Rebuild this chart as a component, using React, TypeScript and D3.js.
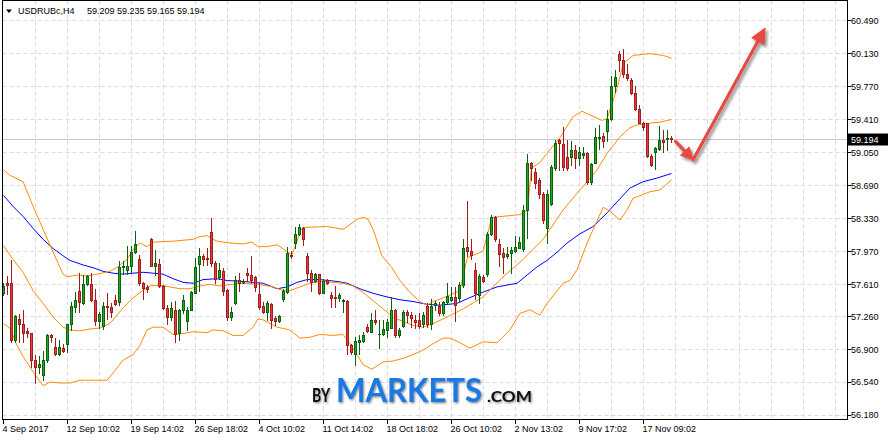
import React from "react";
import * as d3 from "d3";

// ---------- data ----------
const opens = [
  57.51, 57.62, 57.62, 57.0, 57.23, 57.18, 57.1, 57.08, 56.78, 56.7,
  56.62, 56.78, 57.05, 56.92, 56.85, 56.91, 56.96, 57.17, 57.36, 57.53,
  57.4, 57.61, 57.61, 57.44, 57.21, 57.15, 57.37, 57.36, 57.44, 57.41,
  57.8, 57.76, 57.81, 57.96, 57.89, 57.62, 57.58, 58.1, 57.81, 57.83,
  57.59, 57.35, 57.25, 57.33, 57.08, 57.33, 57.21, 57.33, 57.51, 57.83,
  57.92, 57.9, 58.18, 57.84, 57.69, 57.75, 57.55, 57.25, 57.4, 57.66,
  57.63, 57.73, 57.71, 57.69, 57.5, 57.37, 57.31, 57.39, 57.24, 57.21,
  57.45, 57.52, 57.93, 58.06, 58.16, 58.22, 57.92, 57.73, 57.64, 57.72,
  57.51, 57.66, 57.49, 57.47, 57.46, 57.43, 57.43, 56.94, 56.85, 56.98,
  56.99, 57.14, 57.09, 57.22, 57.06, 57.06, 57.11, 57.13, 57.33, 57.05,
  57.15, 57.31, 57.27, 57.22, 57.22, 57.18, 57.37, 57.18, 57.38, 57.37,
  57.29, 57.41, 57.44, 57.47, 57.46, 57.6, 58.02, 57.97, 57.77, 57.49,
  57.69, 57.72, 58.16, 58.34, 58.05, 57.95, 57.92, 57.95, 57.97, 58.01,
  57.99, 58.42, 58.93, 58.84, 58.75, 58.6, 58.22, 58.49, 58.88, 59.19,
  59.14, 59.0, 59.0, 59.08, 58.99, 59.02, 59.04, 58.73, 58.94, 59.21,
  59.23, 59.28, 59.42, 59.78, 60.13, 60.06, 59.91, 59.84, 59.7, 59.52,
  59.37, 59.37, 59.01, 59.05, 59.09, 59.19, 59.2, 59.209,
];
const highs = [
  57.62, 57.7, 57.87, 57.27, 57.28, 57.33, 57.13, 57.08, 56.84, 56.83,
  56.88, 57.06, 57.07, 57.02, 57.0, 56.96, 57.18, 57.42, 57.52, 57.73,
  57.71, 57.71, 57.73, 57.56, 57.31, 57.42, 57.51, 57.4, 57.49, 57.86,
  57.86, 58.03, 58.03, 58.19, 57.93, 57.63, 57.6, 58.12, 57.98, 57.89,
  57.6, 57.38, 57.42, 57.43, 57.34, 57.49, 57.36, 57.54, 57.9, 58.01,
  57.94, 58.01, 58.33, 57.86, 57.84, 57.79, 57.56, 57.36, 57.7, 57.73,
  57.67, 57.79, 57.92, 57.7, 57.62, 57.42, 57.43, 57.4, 57.26, 57.27,
  57.56, 58.02, 57.97, 58.24, 58.27, 58.24, 57.95, 57.77, 57.73, 57.72,
  57.67, 57.67, 57.52, 57.59, 57.51, 57.45, 57.44, 56.96, 57.03, 57.05,
  57.09, 57.18, 57.29, 57.33, 57.22, 57.22, 57.23, 57.47, 57.34, 57.13,
  57.33, 57.33, 57.31, 57.27, 57.3, 57.31, 57.4, 57.45, 57.43, 57.42,
  57.43, 57.62, 57.58, 57.58, 57.63, 58.1, 58.52, 58.1, 57.84, 57.72,
  57.71, 58.18, 58.37, 58.36, 58.1, 58.01, 58.02, 58.02, 58.14, 58.13,
  58.47, 59.03, 58.95, 58.88, 58.77, 58.62, 58.64, 58.91, 59.19, 59.2,
  59.33, 59.19, 59.17, 59.13, 59.11, 59.11, 59.05, 58.94, 59.32, 59.35,
  59.26, 59.51, 59.89, 59.95, 60.16, 60.18, 60.02, 59.86, 59.78, 59.57,
  59.38, 59.37, 59.03, 59.11, 59.34, 59.29, 59.3, 59.235,
];
const lows = [
  57.49, 57.5, 56.98, 56.98, 56.98, 56.98, 57.03, 56.71, 56.53, 56.64,
  56.56, 56.76, 56.98, 56.84, 56.84, 56.87, 56.87, 57.11, 57.31, 57.31,
  57.39, 57.6, 57.43, 57.16, 57.13, 57.12, 57.23, 57.25, 57.38, 57.38,
  57.72, 57.72, 57.73, 57.95, 57.6, 57.45, 57.52, 57.81, 57.71, 57.58,
  57.34, 57.18, 57.22, 56.98, 57.0, 57.29, 57.11, 57.33, 57.51, 57.54,
  57.82, 57.82, 57.81, 57.62, 57.67, 57.49, 57.22, 57.22, 57.39, 57.54,
  57.62, 57.65, 57.62, 57.54, 57.34, 57.29, 57.22, 57.13, 57.16, 57.2,
  57.43, 57.51, 57.9, 58.01, 58.15, 58.04, 57.65, 57.54, 57.63, 57.5,
  57.51, 57.61, 57.36, 57.36, 57.43, 57.31, 56.85, 56.85, 56.73, 56.85,
  56.98, 57.09, 57.09, 57.18, 56.91, 57.05, 57.03, 57.13, 57.03, 57.03,
  57.14, 57.2, 57.14, 57.13, 57.13, 57.14, 57.14, 57.12, 57.33, 57.27,
  57.27, 57.4, 57.43, 57.21, 57.43, 57.58, 57.92, 57.88, 57.45, 57.4,
  57.63, 57.7, 58.15, 58.08, 57.81, 57.73, 57.9, 57.73, 57.96, 58.0,
  57.97, 58.12, 58.75, 58.66, 58.55, 58.28, 58.06, 58.48, 58.86, 58.86,
  58.86, 58.86, 58.91, 58.88, 58.91, 58.99, 58.71, 58.71, 58.93, 59.09,
  59.11, 59.17, 59.4, 59.71, 59.94, 59.87, 59.84, 59.69, 59.51, 59.37,
  59.29, 59.0, 58.9, 58.87, 59.08, 59.06, 59.08, 59.165,
];
const closes = [
  57.59, 57.6, 57.0, 57.26, 57.18, 57.08, 57.08, 56.78, 56.7, 56.74,
  56.78, 57.05, 57.03, 56.85, 56.92, 56.88, 57.17, 57.37, 57.44, 57.41,
  57.61, 57.7, 57.44, 57.21, 57.28, 57.37, 57.36, 57.31, 57.39, 57.8,
  57.81, 57.81, 57.96, 58.05, 57.62, 57.57, 57.56, 57.81, 57.84, 57.59,
  57.35, 57.25, 57.35, 57.07, 57.33, 57.44, 57.33, 57.52, 57.8, 57.92,
  57.89, 57.88, 57.84, 57.67, 57.76, 57.54, 57.25, 57.31, 57.66, 57.62,
  57.64, 57.71, 57.66, 57.58, 57.36, 57.31, 57.4, 57.22, 57.21, 57.26,
  57.53, 57.95, 57.92, 58.16, 58.23, 58.1, 57.73, 57.63, 57.72, 57.51,
  57.65, 57.62, 57.46, 57.46, 57.49, 57.44, 56.94, 56.87, 56.99, 57.0,
  57.05, 57.1, 57.22, 57.2, 57.07, 57.12, 57.2, 57.33, 57.05, 57.11,
  57.31, 57.27, 57.24, 57.2, 57.15, 57.27, 57.18, 57.37, 57.4, 57.29,
  57.42, 57.48, 57.47, 57.38, 57.6, 58.01, 57.97, 57.93, 57.51, 57.7,
  57.64, 58.16, 58.34, 58.1, 57.94, 57.91, 57.94, 57.98, 58.02, 58.07,
  58.42, 58.93, 58.88, 58.72, 58.6, 58.31, 58.6, 58.89, 59.15, 59.15,
  58.89, 58.88, 59.08, 58.99, 59.05, 59.04, 58.73, 58.92, 59.22, 59.22,
  59.18, 59.42, 59.78, 59.87, 60.06, 59.91, 59.86, 59.7, 59.53, 59.37,
  59.33, 59.01, 58.91, 59.1, 59.19, 59.16, 59.21, 59.194,
];

// Bollinger bands (20) and moving average: [bar index, price]
const upperBand: [number, number][] = [
  [0, 58.86], [1.6, 58.8], [4.9, 58.73], [7.4, 58.46], [9.9, 58.21], [12.4, 57.96],
  [14.9, 57.72], [15.9, 57.69], [18.4, 57.71], [20.9, 57.7], [23.4, 57.72], [26.6, 57.75],
  [28.6, 57.8], [30.9, 57.88], [32.4, 57.99], [34.1, 58.06], [35.9, 58.02], [37.4, 58.07],
  [42.4, 58.08], [47.4, 58.1], [49.1, 58.13], [50.9, 58.14], [52.4, 58.1], [53.4, 58.08],
  [56.6, 58.06], [59.9, 58.05], [62.1, 58.07], [63.6, 58.02], [65.9, 58.02], [68.4, 58.04],
  [70.9, 57.97], [72.1, 57.93], [73.4, 58.08], [74.1, 58.19], [74.9, 58.23], [80.9, 58.24],
  [84.9, 58.21], [86.6, 58.26], [88.4, 58.32], [89.9, 58.34], [91.1, 58.32], [92.4, 58.21],
  [94.6, 57.92], [97.1, 57.79], [99.1, 57.65], [101.6, 57.52], [104.1, 57.42], [105.9, 57.38],
  [107.4, 57.42], [109.9, 57.46], [111.6, 57.49], [114.1, 57.54], [115, 57.72], [116, 57.9],
  [119.9, 57.97], [122.1, 58.34], [129.1, 58.37], [131, 58.42], [132, 58.88], [134.1, 58.94],
  [136.6, 59.08], [139.1, 59.21], [142.4, 59.44], [144.6, 59.5], [146.6, 59.46], [149.6, 59.4],
  [150.9, 59.42], [153.4, 59.75], [154.9, 60.02], [157.4, 60.11], [161.6, 60.13], [164.9, 60.11],
  [167, 60.08],
];
const middleBand: [number, number][] = [
  [0, 58.03], [2.4, 57.88], [4.9, 57.74], [7.4, 57.54], [9.9, 57.4], [12.4, 57.25],
  [14.9, 57.14], [16.6, 57.11], [19.1, 57.1], [21.6, 57.12], [24.1, 57.13], [26.6, 57.18],
  [29.1, 57.31], [31.6, 57.43], [34.1, 57.52], [36.6, 57.59], [39.1, 57.6], [41.6, 57.58],
  [44.1, 57.56], [46.6, 57.56], [49.1, 57.59], [51.6, 57.61], [54.1, 57.59], [59.1, 57.62],
  [63.4, 57.61], [67.4, 57.58], [69.9, 57.54], [71.6, 57.54], [74.1, 57.58], [76.6, 57.62],
  [79.1, 57.64], [82.4, 57.63], [84.9, 57.62], [87.4, 57.59], [89.9, 57.52], [92.4, 57.43],
  [94.9, 57.34], [97.4, 57.25], [99.9, 57.2], [102.4, 57.16], [104.9, 57.14], [107.4, 57.18],
  [109.9, 57.23], [114.9, 57.34], [119.9, 57.47], [124.9, 57.69], [129.9, 57.88], [134.9, 58.1],
  [139.9, 58.42], [144.1, 58.64], [148.4, 58.86], [150.9, 59.04], [154.1, 59.22], [156.6, 59.32],
  [158.4, 59.35], [161.6, 59.37], [164.1, 59.38], [167, 59.41],
];
const lowerBand: [number, number][] = [
  [0, 57.18], [1.6, 57.13], [3.4, 56.94], [4.9, 56.82], [7.4, 56.65], [9.9, 56.5],
  [11.6, 56.54], [14.1, 56.53], [16.6, 56.53], [19.1, 56.56], [21.6, 56.56], [25.9, 56.56],
  [27.4, 56.64], [29.9, 56.78], [32.4, 56.84], [34.1, 56.94], [35.9, 57.11], [37.4, 57.14],
  [39.9, 57.14], [42.4, 57.06], [44.9, 57.07], [47.4, 57.09], [50.9, 57.08], [52.4, 57.11],
  [54.9, 57.1], [57.4, 57.05], [59.9, 57.05], [62.4, 57.14], [63.6, 57.23], [64.9, 57.22],
  [68.4, 57.14], [71.6, 57.11], [74.1, 57.02], [76.6, 57.03], [79.1, 57.06], [82.4, 57.05],
  [84.9, 57.06], [86.6, 56.96], [88.4, 56.84], [89.9, 56.73], [92.1, 56.68], [94.9, 56.76],
  [97.4, 56.77], [99.9, 56.8], [102.4, 56.84], [104.9, 56.89], [107.4, 56.96], [109.9, 57.02],
  [111.6, 57.02], [114.1, 56.97], [116.6, 56.91], [119.9, 56.98], [123.4, 56.97], [126.6, 57.11],
  [129.1, 57.29], [131.6, 57.33], [134.1, 57.27], [135.9, 57.4], [139.9, 57.62], [141.6, 57.65],
  [143.4, 57.77], [145.9, 58.06], [149.9, 58.45], [151.6, 58.41], [154.1, 58.31], [155.9, 58.42],
  [157.4, 58.55], [159.9, 58.59], [161.6, 58.62], [164.1, 58.64], [167, 58.75],
];
const maLine: [number, number][] = [
  [0, 58.58], [2.4, 58.46], [4.9, 58.35], [7.4, 58.22], [9.9, 58.1], [12.4, 58.0],
  [14.9, 57.92], [16.6, 57.87], [19.9, 57.82], [22.4, 57.79], [24.9, 57.75], [27.4, 57.73],
  [29.9, 57.72], [32.4, 57.73], [34.9, 57.74], [37.4, 57.73], [39.9, 57.72], [42.4, 57.67],
  [44.9, 57.63], [47.4, 57.62], [49.9, 57.66], [53.4, 57.67], [55.9, 57.65], [59.9, 57.64],
  [64.9, 57.62], [68.4, 57.56], [70.9, 57.58], [73.4, 57.63], [75.9, 57.66], [79.1, 57.66],
  [83.4, 57.64], [85.9, 57.62], [89.1, 57.56], [92.4, 57.51], [95.9, 57.47], [99.1, 57.44],
  [102.4, 57.42], [105.9, 57.39], [109.1, 57.38], [113.4, 57.4], [115.9, 57.45], [119.1, 57.51],
  [123.4, 57.58], [128.4, 57.62], [130.9, 57.71], [133.4, 57.8], [135.9, 57.87], [138.4, 57.96],
  [140.9, 58.06], [144.1, 58.16], [147.4, 58.24], [150.9, 58.39], [153.4, 58.51], [156.6, 58.66],
  [159.9, 58.73], [163.4, 58.77], [167, 58.82],
];

const priceTicks = [60.49, 60.13, 59.77, 59.41, 59.05, 58.69, 58.33, 57.97, 57.61, 57.26, 56.9, 56.54, 56.18];
const timeTickBars = [0, 16, 32, 48, 64, 80, 96, 112, 128, 144, 160];
const timeTickLabels = [
  "4 Sep 2017", "12 Sep 10:02", "19 Sep 14:02", "26 Sep 18:02", "4 Oct 10:02", "11 Oct 14:02",
  "18 Oct 18:02", "26 Oct 10:02", "2 Nov 13:02", "9 Nov 17:02", "17 Nov 09:02",
];
const symbolLabel = "USDRUBc,H4";
const lastQuote = [59.209, 59.235, 59.165, 59.194];
const forecastBars = [168, 172.4, 190.4];
const forecastPrices = [59.17, 58.97, 60.41];

// ---------- styles ----------
const BULL_FILL = "#22a822";
const BULL_LINE = "#0c620c";
const BEAR_FILL = "#e2403a";
const BEAR_LINE = "#a11d1d";
const GRID = "#d9d9ef";
const ARROW = "#e8493f";
const FONT = "'Liberation Sans', Arial, sans-serif";

export default function App() {
  const W = 888;
  const H = 440;
  const fr = { l: 2.5, r: 847.5, t: 0.5, b: 419.5 };
  const x = d3.scaleLinear().domain([0, 167]).range([3.5, 671.5]);
  const y = d3.scaleLinear().domain([56.18, 60.49]).range([415, 20.7]);
  const snap = (v: number) => Math.floor(v) + 0.5;
  const line = d3
    .line<[number, number]>()
    .x((d) => x(d[0]))
    .y((d) => y(d[1]));
  const gridBars = d3.range(8, 240, 8).filter((b) => x(b) < fr.r - 1);
  const lastClose = lastQuote[3];

  const pts = forecastBars.map((b, i) => [x(b), y(forecastPrices[i])] as [number, number]);
  const arrow = (p0: [number, number], p1: [number, number], len: number, wid: number) => {
    const dx = p1[0] - p0[0];
    const dy = p1[1] - p0[1];
    const m = Math.hypot(dx, dy);
    const ux = dx / m;
    const uy = dy / m;
    const bx = p1[0] - ux * len;
    const by = p1[1] - uy * len;
    const px = -uy;
    const py = ux;
    const head = [
      [p1[0], p1[1]],
      [bx + (px * wid) / 2, by + (py * wid) / 2],
      [bx - (px * wid) / 2, by - (py * wid) / 2],
    ]
      .map((p) => p.join(","))
      .join(" ");
    return { shaft: [p0[0], p0[1], bx + ux * 2, by + uy * 2], head };
  };
  const a1 = arrow(pts[0], pts[1], 12, 12);
  const a2 = arrow(pts[1], pts[2], 15, 14);

  return (
    <div style={{ position: "absolute", left: 0, top: 0, width: W, height: H, background: "#fff" }}>
      <svg width={W} height={H} viewBox={`0 0 ${W} ${H}`} style={{ display: "block" }}>
        <defs>
          <clipPath id="plot">
            <rect x={3} y={1} width={fr.r - 3.5} height={fr.b - 1.5} />
          </clipPath>
          <filter id="arrowShadow" x="-30%" y="-30%" width="160%" height="160%">
            <feDropShadow dx="2" dy="2.5" stdDeviation="1.6" floodColor="#000" floodOpacity="0.45" />
          </filter>
          <filter id="logoShadow" x="-10%" y="-30%" width="120%" height="160%">
            <feDropShadow dx="1" dy="1.2" stdDeviation="1.3" floodColor="#000" floodOpacity="0.5" />
          </filter>
        </defs>
        <rect x={0} y={0} width={W} height={H} fill="#fff" />

        {/* grid */}
        <g stroke={GRID} strokeWidth={1} strokeDasharray="4,3" fill="none">
          {priceTicks.map((p) => (
            <line key={"h" + p} x1={fr.l} x2={fr.r} y1={snap(y(p))} y2={snap(y(p))} />
          ))}
          {gridBars.map((b) => (
            <line key={"v" + b} x1={x(b)} x2={x(b)} y1={fr.t} y2={fr.b} />
          ))}
        </g>

        {/* watermark */}
        <text
          filter="url(#logoShadow)"
          fontFamily="Lato, 'Open Sans', sans-serif"
          fontWeight={700}
          y={402}
        >
          <tspan x={312} fontSize={19} fill="#111" textLength={18} lengthAdjust="spacingAndGlyphs">
            BY
          </tspan>
          <tspan x={336} fontSize={33} fill="#1b78e2" textLength={146} lengthAdjust="spacingAndGlyphs">
            MARKETS
          </tspan>
          <tspan x={487} fontSize={15} fill="#111" textLength={45} lengthAdjust="spacingAndGlyphs">
            .COM
          </tspan>
        </text>

        {/* current price line */}
        <line x1={fr.l} x2={fr.r} y1={snap(y(lastClose))} y2={snap(y(lastClose))} stroke="#c8c8d8" strokeWidth={1} />

        <g clipPath="url(#plot)">
          {/* indicators */}
          <path d={line(maLine) || ""} fill="none" stroke="#0000ff" strokeWidth={1} />
          <path d={line(upperBand) || ""} fill="none" stroke="#ff8c00" strokeWidth={1} />
          <path d={line(middleBand) || ""} fill="none" stroke="#ff8c00" strokeWidth={1} />
          <path d={line(lowerBand) || ""} fill="none" stroke="#ff8c00" strokeWidth={1} />

          {/* candles */}
          {closes.map((c, i) => {
            const o = opens[i];
            const bull = c >= o;
            const cx = x(i);
            const st = bull ? BULL_LINE : BEAR_LINE;
            const fl = bull ? BULL_FILL : BEAR_FILL;
            const yt = Math.round(y(Math.max(o, c))) + 0.5;
            const yb = Math.round(y(Math.min(o, c))) + 0.5;
            const yh = Math.round(y(highs[i]));
            const yl = Math.round(y(lows[i])) + 1;
            return (
              <g key={i}>
                <line x1={cx} x2={cx} y1={yh} y2={yl} stroke={st} strokeWidth={1} />
                {yb - yt >= 1 ? (
                  <rect x={cx - 1} y={yt} width={2} height={yb - yt} fill={fl} stroke={st} strokeWidth={1} />
                ) : (
                  <line x1={cx - 1.5} x2={cx + 1.5} y1={yt} y2={yt} stroke={st} strokeWidth={1} />
                )}
              </g>
            );
          })}
        </g>

        {/* forecast arrows */}
        <g filter="url(#arrowShadow)" stroke={ARROW} fill={ARROW}>
          <line x1={a1.shaft[0]} y1={a1.shaft[1]} x2={a1.shaft[2]} y2={a1.shaft[3]} strokeWidth={3.2} strokeLinecap="round" />
          <polygon points={a1.head} strokeWidth={1} strokeLinejoin="round" />
          <line x1={a2.shaft[0]} y1={a2.shaft[1]} x2={a2.shaft[2]} y2={a2.shaft[3]} strokeWidth={3.2} strokeLinecap="round" />
          <polygon points={a2.head} strokeWidth={1} strokeLinejoin="round" />
        </g>

        {/* frame */}
        <rect x={fr.l} y={fr.t} width={fr.r - fr.l} height={fr.b - fr.t} fill="none" stroke="#000" strokeWidth={1} />

        {/* right axis */}
        <g fontFamily={FONT} fontSize={9} fill="#000">
          {priceTicks.map((p) => (
            <g key={"yt" + p}>
              <line x1={fr.r} x2={fr.r + 4} y1={snap(y(p))} y2={snap(y(p))} stroke="#000" />
              <text x={851} y={y(p) + 3.4}>
                {p.toFixed(3)}
              </text>
            </g>
          ))}
          <rect x={848} y={snap(y(lastClose)) - 6} width={40} height={12} fill="#000" />
          <text x={851} y={y(lastClose) + 3.6} fill="#fff">
            {lastClose.toFixed(3)}
          </text>
        </g>

        {/* bottom axis */}
        <g fontFamily={FONT} fontSize={9} fill="#000">
          {timeTickBars.map((b, i) => (
            <g key={"xt" + b}>
              <line x1={x(b)} x2={x(b)} y1={fr.b} y2={fr.b + 4.5} stroke="#000" />
              <text x={x(b) - 1} y={432}>
                {timeTickLabels[i]}
              </text>
            </g>
          ))}
        </g>

        {/* header */}
        <polygon points="6,9.5 12,9.5 9,13" fill="#000" />
        <g fontFamily={FONT} fontSize={9} fill="#000">
          <text x={18} y={14}>
            {symbolLabel}
          </text>
          <text x={87} y={14}>
            {lastQuote.map((v) => v.toFixed(3)).join(" ")}
          </text>
        </g>
      </svg>
    </div>
  );
}
